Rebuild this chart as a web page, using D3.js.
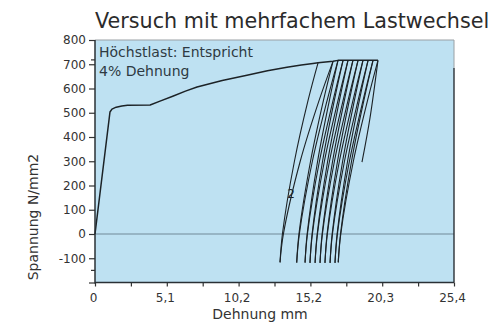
<!DOCTYPE html>
<html><head><meta charset="utf-8">
<script src="https://cdn.jsdelivr.net/npm/d3@7"></script>
<style>body{margin:0;background:#fff}svg{display:block}text{font-family:"DejaVu Sans",sans-serif}</style>
</head><body><svg id="c" width="496" height="323"></svg>
<script>
const title = "Versuch mit mehrfachem Lastwechsel";
const xLabel = "Dehnung mm";
const yLabel = "Spannung N/mm2";
const noteLines = ["Höchstlast: Entspricht", "4% Dehnung"];
const loopLabel = "2";
const xTickValues = [0, 2.54, 5.08, 7.62, 10.16, 12.7, 15.24, 17.78, 20.32, 22.86, 25.4];
const xTickLabels = ["0", "", "5,1", "", "10,2", "", "15,2", "", "20,3", "", "25,4"];
const yTickValues = [-200, -100, 0, 100, 200, 300, 400, 500, 600, 700, 800];
const yTickLabels = ["", "-100", "0", "100", "200", "300", "400", "500", "600", "700", "800"];
const yMinorTicks = [-150, 718];

// main tensile curve [strain mm, stress N/mm2], ending in the plateau of the loop tops
const mainCurve = [[0,0],[1.06,503],[1.2,515],[1.5,523],[1.9,528],[2.3,531],[3.9,532],[4.6,548],[5.5,568],[6.4,589],[7.22,606],[9.0,633],[10.75,655],[12.2,673],[13.58,688],[14.6,697],[15.42,703],[15.78,706],[16.84,712],[17.19,716],[20.02,716]];

// unloading branches: peak -> bottom
const unloadBranches = [
  [[15.78,706],[15.07,550],[14.11,300],[13.26,0],[13.09,-117]],
  [[16.84,712],[16.16,550],[15.25,300],[14.43,0],[14.27,-118]],
  [[17.19,715],[16.58,550],[15.75,300],[15.01,0],[14.86,-118]],
  [[17.55,716],[16.93,550],[16.10,300],[15.36,0],[15.21,-119]],
  [[17.90,716],[17.29,550],[16.46,300],[15.72,0],[15.57,-119]],
  [[18.25,716],[17.64,550],[16.81,300],[16.07,0],[15.92,-119]],
  [[18.61,716],[17.99,550],[17.16,300],[16.42,0],[16.27,-119]],
  [[18.96,716],[18.35,550],[17.52,300],[16.78,0],[16.63,-119]],
  [[19.32,716],[18.70,550],[17.87,300],[17.13,0],[16.98,-119]],
  [[19.67,716],[19.02,550],[18.15,300],[17.37,0],[17.21,-117]]
];
// reloading branches: bottom -> next peak
const reloadBranches = [
  [[13.09,-117],[13.33,0],[14.52,300],[15.85,550],[16.84,712]],
  [[14.27,-118],[14.46,0],[15.38,300],[16.42,550],[17.19,715]],
  [[14.86,-118],[15.03,0],[15.88,300],[16.84,550],[17.55,716]],
  [[15.21,-119],[15.38,0],[16.23,300],[17.19,550],[17.90,716]],
  [[15.57,-119],[15.74,0],[16.59,300],[17.55,550],[18.25,716]],
  [[15.92,-119],[16.09,0],[16.94,300],[17.90,550],[18.61,716]],
  [[16.27,-119],[16.44,0],[17.29,300],[18.25,550],[18.96,716]],
  [[16.63,-119],[16.80,0],[17.65,300],[18.61,550],[19.32,716]],
  [[16.98,-119],[17.15,0],[18.00,300],[18.96,550],[19.67,716]],
  [[17.21,-117],[17.39,0],[18.28,300],[19.28,550],[20.02,716]]
];
const finalBranch = [[20.02,716],[19.46,480],[18.89,296]];
const loopLabelPos = [13.88, 150];

const svg = d3.select("#c");
const L = 95, R = 454, T = 40, B = 282.5;
const x = d3.scaleLinear().domain([0, 25.4]).range([L, R]);
const y = d3.scaleLinear().domain([-200, 800]).range([B, T]);

svg.append("rect").attr("x", L).attr("y", T).attr("width", R - L).attr("height", B - T).attr("fill", "#bee1f2");

// zero line
svg.append("line").attr("x1", L).attr("x2", R).attr("y1", y(0)).attr("y2", y(0))
  .attr("stroke", "#8aa6b6").attr("stroke-width", 1.6);

// frame
svg.append("line").attr("x1", L).attr("x2", R).attr("y1", T).attr("y2", T).attr("stroke", "#9aa0a4").attr("stroke-width", 1);
svg.append("line").attr("x1", R).attr("x2", R).attr("y1", T).attr("y2", 68).attr("stroke", "#9aa0a4").attr("stroke-width", 1);
svg.append("line").attr("x1", R).attr("x2", R).attr("y1", 68).attr("y2", B).attr("stroke", "#2a3035").attr("stroke-width", 1.4);

// curves
const mainLine = d3.line().x(d => x(d[0])).y(d => y(d[1])).curve(d3.curveLinear);
const branchLine = d3.line().x(d => x(d[0])).y(d => y(d[1])).curve(d3.curveCatmullRom.alpha(0.5));

svg.append("path").datum(mainCurve).attr("d", mainLine).attr("fill", "none")
  .attr("stroke", "#1c2226").attr("stroke-width", 1.5).attr("stroke-linejoin", "round");
const g = svg.append("g").attr("fill", "none").attr("stroke", "#1c2226").attr("stroke-width", 1.1);
g.selectAll("path.u").data(unloadBranches).join("path").attr("class", "u").attr("d", branchLine);
g.selectAll("path.r").data(reloadBranches).join("path").attr("class", "r").attr("d", branchLine);
g.append("path").datum(finalBranch).attr("d", branchLine);

svg.append("text").attr("x", x(loopLabelPos[0])).attr("y", y(loopLabelPos[1]))
  .attr("font-size", 12).attr("fill", "#1c2226").attr("text-anchor", "middle").text(loopLabel);

// axes
const yAxis = d3.axisLeft(y).tickValues(yTickValues).tickFormat((d, i) => yTickLabels[i]).tickSize(6).tickPadding(3);
const ya = svg.append("g").attr("transform", `translate(${L},0)`).call(yAxis);
ya.select(".domain").remove();
ya.selectAll(".tick line").attr("stroke", "#333").attr("stroke-width", 1.2);
ya.selectAll("text").attr("font-size", 12).attr("fill", "#333").attr("font-family", "DejaVu Sans");
svg.selectAll("line.minor").data(yMinorTicks).join("line").attr("class", "minor")
  .attr("x1", L - 4).attr("x2", L).attr("y1", d => y(d)).attr("y2", d => y(d)).attr("stroke", "#333").attr("stroke-width", 1.2);

const xAxis = d3.axisBottom(x).tickValues(xTickValues).tickFormat((d, i) => xTickLabels[i]).tickSize(4).tickPadding(7);
const xa = svg.append("g").attr("transform", `translate(0,${B})`).call(xAxis);
xa.select(".domain").remove();
xa.selectAll(".tick line").attr("stroke", "#333").attr("stroke-width", 1.2);
xa.selectAll("text").attr("font-size", 12).attr("fill", "#333").attr("font-family", "DejaVu Sans").attr("dx", -2);

svg.append("line").attr("x1", L).attr("x2", L).attr("y1", T).attr("y2", B + 1).attr("stroke", "#2a3035").attr("stroke-width", 1.5);
svg.append("line").attr("x1", L).attr("x2", R).attr("y1", B).attr("y2", B).attr("stroke", "#2a3035").attr("stroke-width", 1.5);

// texts
svg.append("text").attr("x", L).attr("y", 27.5).attr("font-size", 20.7).attr("fill", "#2b2b2b").text(title);
svg.selectAll("text.note").data(noteLines).join("text").attr("class", "note")
  .attr("x", 99).attr("y", (d, i) => 56.5 + i * 19).attr("font-size", 14).attr("fill", "#2e3a42").text(d => d);
svg.append("text").attr("x", 260).attr("y", 319).attr("font-size", 14).attr("fill", "#333")
  .attr("text-anchor", "middle").text(xLabel);
svg.append("text").attr("transform", `translate(38,217) rotate(-90)`).attr("font-size", 14).attr("fill", "#333")
  .attr("text-anchor", "middle").text(yLabel);
</script></body></html>
